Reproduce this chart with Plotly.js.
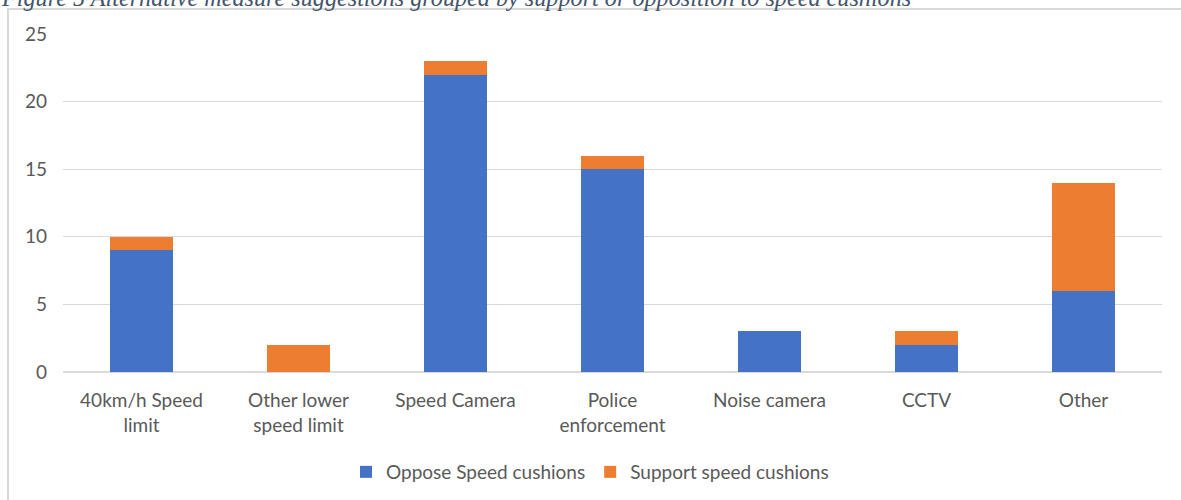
<!DOCTYPE html>
<html>
<head>
<meta charset="utf-8">
<script src="https://cdn.plot.ly/plotly-3.0.1.min.js"></script>
<style>html,body{margin:0;padding:0;background:#fff;}#chart{width:1181px;height:500px;}</style>
</head>
<body>
<div id="chart"></div>
<script>
const categories = ["40km/h Speed<br>limit", "Other lower<br>speed limit", "Speed Camera", "Police<br>enforcement", "Noise camera", "CCTV", "Other"];
const opposeValues = [9, 0, 22, 15, 3, 2, 6];
const supportValues = [1, 2, 1, 1, 0, 1, 8];
const seriesNames = ["Oppose Speed cushions", "Support speed cushions"];
const titleText = "Figure 5 Alternative measure suggestions grouped by support or opposition to speed cushions";

const W = 1181, H = 500;
const L = 63, R = 19, T = 34, B = 128;
const pw = W - L - R, ph = H - T - B;
const px = x => (x - L) / pw;
const py = y => (H - B - y) / ph;

const font = "Lato, 'Liberation Sans', sans-serif";

const data = [
  {type: "bar", name: seriesNames[0], x: categories, y: opposeValues,
   marker: {color: "#4472C4", line: {width: 0}}},
  {type: "bar", name: seriesNames[1], x: categories, y: supportValues,
   marker: {color: "#ED7D31", line: {width: 0}}}
];

const layout = {
  width: W, height: H,
  margin: {l: L, r: R, t: T, b: B, pad: 0, autoexpand: false},
  barmode: "stack",
  bargap: 0.6,
  paper_bgcolor: "#fff",
  plot_bgcolor: "#fff",
  font: {family: font, size: 19, color: "#595959"},
  showlegend: true,
  legend: {orientation: "h", xref: "container", yref: "container",
           x: 590 / W, xanchor: "center", y: 1 - 472 / H, yanchor: "middle",
           font: {family: font, size: 19, color: "#595959"}, traceorder: "normal",
           itemwidth: 30},
  xaxis: {type: "category", showgrid: false, zeroline: false, showline: false,
          ticks: "", tickfont: {family: font, size: 19, color: "#595959"},
          ticklabelstandoff: 15, automargin: false},
  yaxis: {range: [0, 25], dtick: 5, tick0: 0, showgrid: true, gridcolor: "#D9D9D9", gridwidth: 1.3,
          zeroline: true, zerolinecolor: "#D9D9D9", zerolinewidth: 1.3, showline: false,
          ticks: "", tickfont: {family: font, size: 19, color: "#595959"},
          ticklabelstandoff: 15, automargin: false},
  shapes: [
    {type: "rect", xref: "paper", yref: "paper", x0: px(8), x1: px(1200), y0: py(9), y1: py(520),
     line: {color: "#D9D9D9", width: 2}, fillcolor: "rgba(0,0,0,0)", layer: "below"}
  ],
  annotations: [
    {text: "<i>" + titleText + "</i>", xref: "paper", yref: "paper", x: px(-1), y: py(-3),
     xanchor: "left", yanchor: "middle", showarrow: false,
     font: {family: "'Liberation Serif', 'Times New Roman', serif", size: 24.2, color: "#44546A"}}
  ]
};

Plotly.newPlot("chart", data, layout, {displayModeBar: false, staticPlot: true});
</script>
</body>
</html>
